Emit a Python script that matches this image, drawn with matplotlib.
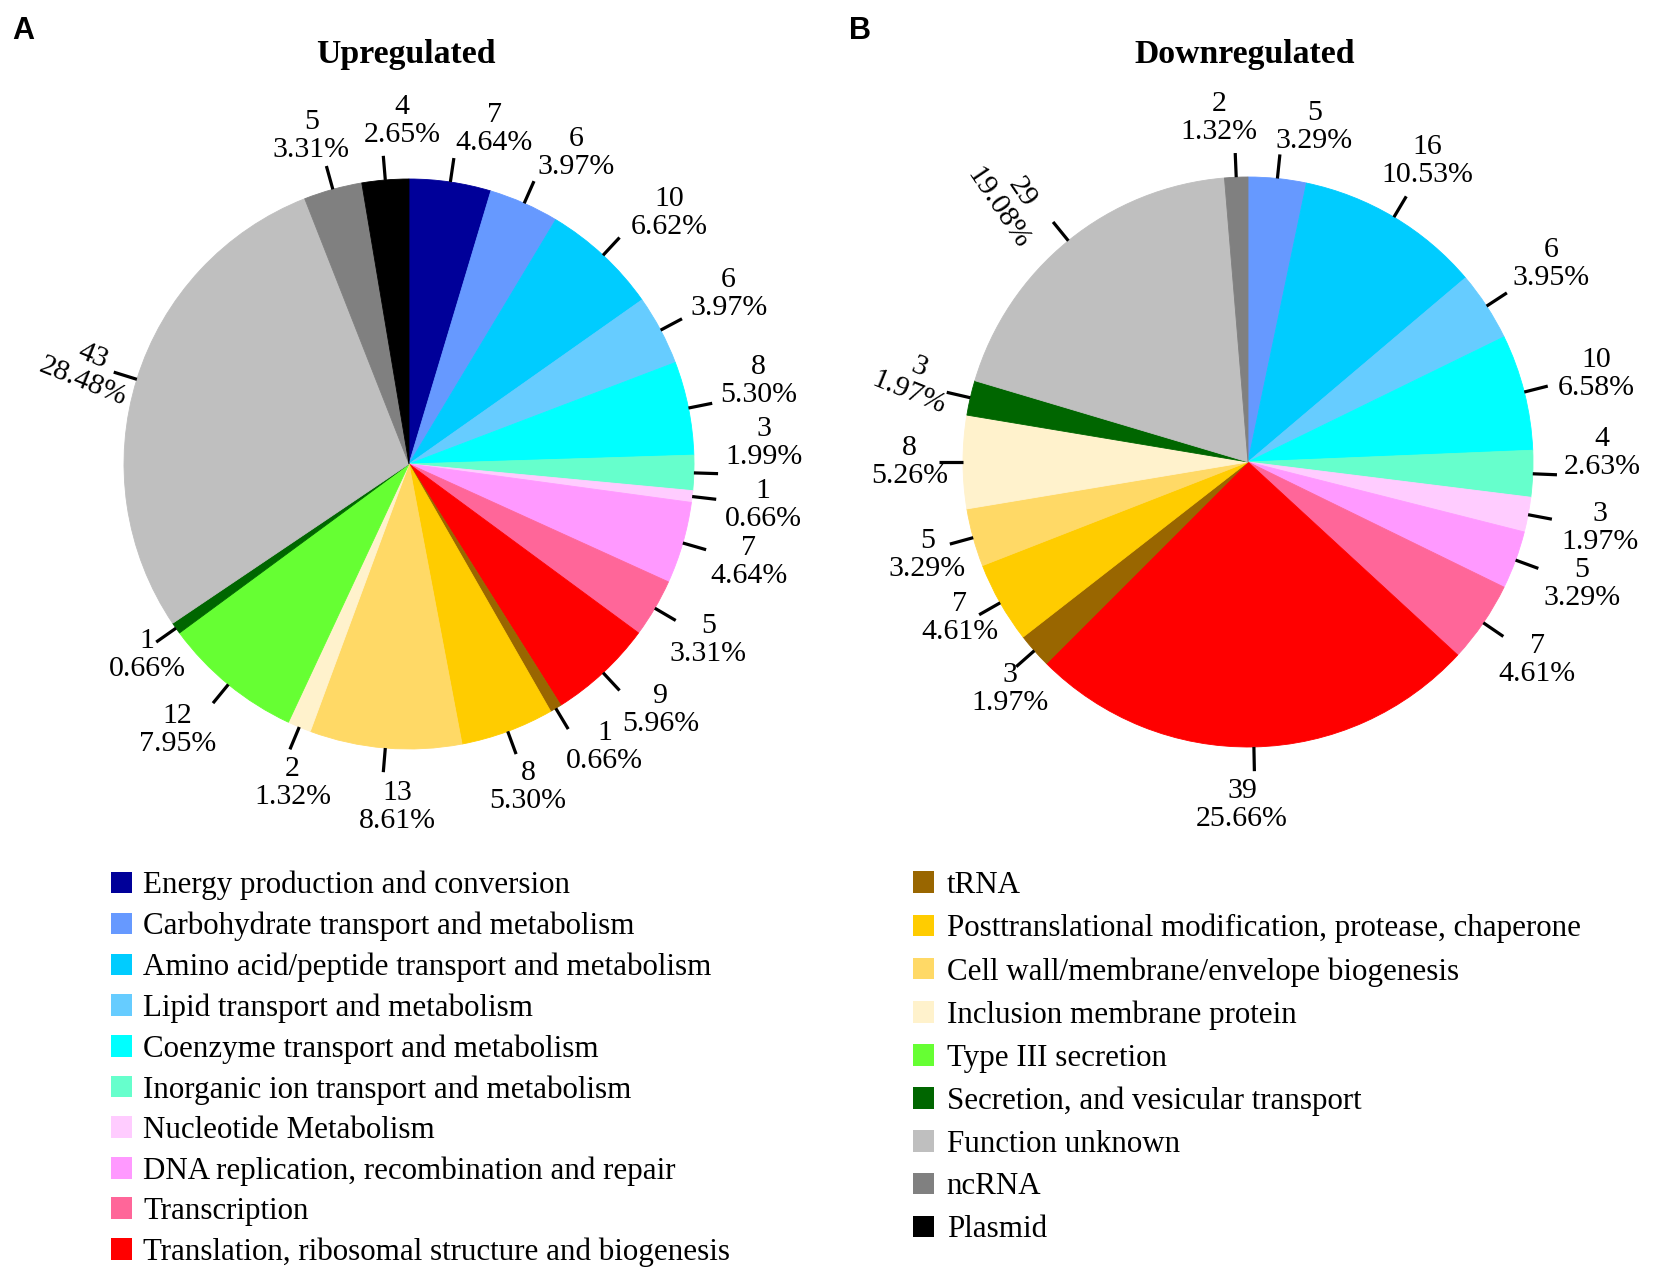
import numpy as np
import matplotlib
matplotlib.use("Agg")
import matplotlib.pyplot as plt
from matplotlib.patches import Patch

W, H = 1654, 1271

# COG categories, shared by both pies (clockwise from 12 o'clock)
categories = [
    "Energy production and conversion",
    "Carbohydrate transport and metabolism",
    "Amino acid/peptide transport and metabolism",
    "Lipid transport and metabolism",
    "Coenzyme transport and metabolism",
    "Inorganic ion transport and metabolism",
    "Nucleotide Metabolism",
    "DNA replication, recombination and repair",
    "Transcription",
    "Translation, ribosomal structure and biogenesis",
    "tRNA",
    "Posttranslational modification, protease, chaperone",
    "Cell wall/membrane/envelope biogenesis",
    "Inclusion membrane protein",
    "Type III secretion",
    "Secretion, and vesicular transport",
    "Function unknown",
    "ncRNA",
    "Plasmid",
]
colors = [
    "#000099", "#6699FF", "#00CCFF", "#66CCFF", "#00FFFF", "#66FFCC",
    "#FFCCFF", "#FF99FF", "#FF6699", "#FF0000", "#996600", "#FFCC00",
    "#FFD966", "#FFF2CC", "#66FF33", "#006600", "#BFBFBF", "#808080",
    "#000000",
]
up_counts = [7, 6, 10, 6, 8, 3, 1, 7, 5, 9, 1, 8, 13, 2, 12, 1, 43, 5, 4]
down_counts = [0, 5, 16, 6, 10, 4, 3, 5, 7, 39, 3, 7, 5, 8, 0, 3, 29, 2, 0]

# a few labels are tilted in the original
up_rot = {"Function unknown": -22}
down_rot = {"Function unknown": -56, "Secretion, and vesicular transport": -22}

# label nudges so they sit like the original: (extra angle, degrees clockwise; radial px)
up_nudge = {
    categories[0]: (5.9, -5), categories[1]: (4.4, -4), categories[2]: (3.1, 0),
    categories[4]: (-2.0, 0), categories[5]: (-5.2, 0), categories[7]: (0, -6),
    categories[8]: (0, -15), categories[9]: (-2.7, -10),
    categories[10]: (-3.6, -15), categories[11]: (0, -10), categories[12]: (-2.8, 0),
    categories[13]: (-2.6, -14), categories[14]: (1.7, -8), categories[15]: (-1.0, -38),
    "Function unknown": (-0.8, -43), "ncRNA": (-1.1, -10), "Plasmid": (3.6, 0),
}
down_nudge = {
    "ncRNA": (-2.4, 0), categories[1]: (5.3, -8), categories[2]: (0, -12),
    categories[5]: (-3.9, 0), categories[7]: (0, -5), categories[8]: (0, -12),
    categories[9]: (2.2, 0), categories[10]: (-2.2, -33), categories[11]: (1.2, -34),
    categories[12]: (-0.8, -26), categories[13]: (0, -15),
    "Function unknown": (-3.2, -33), "Secretion, and vesicular transport": (0.7, -25),
}

SERIF = ["Liberation Serif", "DejaVu Serif"]
SANS = ["Liberation Sans", "DejaVu Sans"]

fig = plt.figure(figsize=(W / 100, H / 100), dpi=100)
ax = fig.add_axes([0, 0, 1, 1])
renderer = fig.canvas.get_renderer()


def draw_panel(counts, center, radius, rot, nudge):
    # drop the empty categories, keep the colours matched
    keep = [i for i, v in enumerate(counts) if v > 0]
    vals = [counts[i] for i in keep]
    cols = [colors[i] for i in keep]
    names = [categories[i] for i in keep]
    total = sum(vals)

    wedges, _ = ax.pie(vals, colors=cols, startangle=90, counterclock=False,
                       center=center, radius=radius,
                       wedgeprops=dict(linewidth=0.6))
    for w, c in zip(wedges, cols):
        w.set_edgecolor(c)

    for w, v, name in zip(wedges, vals, names):
        mid = (w.theta1 + w.theta2) / 2
        ang = np.deg2rad(mid)
        ux, uy = np.cos(ang), np.sin(ang)
        x0, y0 = center[0] + radius * ux, center[1] + radius * uy
        x1, y1 = center[0] + radius * 1.085 * ux, center[1] + radius * 1.085 * uy
        ax.plot([x0, x1], [y0, y1], color="black", lw=2.3, solid_capstyle="butt")

        t = ax.text(x1, y1, f"{v}\n{100 * v / total:.2f}%", ha="center", va="center",
                    multialignment="center", rotation=rot.get(name, 0),
                    rotation_mode="anchor", fontsize=21.5, family=SERIF,
                    linespacing=1.1)
        bb = t.get_window_extent(renderer)
        dang, dr = nudge.get(name, (0, 0))
        la = np.deg2rad(mid - dang)
        lx, ly = np.cos(la), np.sin(la)
        d = radius * 1.085 + 6 + dr + 0.5 * bb.width * abs(lx) + 0.5 * bb.height * abs(ly)
        t.set_position((center[0] + d * lx, center[1] + d * ly))


draw_panel(up_counts, (409, H - 464), 285, up_rot, up_nudge)
draw_panel(down_counts, (1248, H - 462), 285, down_rot, down_nudge)

ax.set_xlim(0, W)
ax.set_ylim(0, H)
ax.set_aspect("auto")
ax.axis("off")

# titles and panel letters
ax.text(406, H - 55, "Upregulated", ha="center", va="center", fontsize=24.3,
        fontweight="bold", family=SERIF)
ax.text(1245, H - 55, "Downregulated", ha="center", va="center", fontsize=24.3,
        fontweight="bold", family=SERIF)
ax.text(23, H - 31, "A", ha="center", va="center", fontsize=22,
        fontweight="bold", family=SANS)
ax.text(860, H - 31, "B", ha="center", va="center", fontsize=22,
        fontweight="bold", family=SANS)

# legends, two columns
leg_font = dict(family=SERIF, size=22.3)
h_left = [Patch(facecolor=colors[i], edgecolor="none") for i in range(10)]
h_right = [Patch(facecolor=colors[i], edgecolor="none") for i in range(10, 19)]

leg1 = ax.legend(h_left, categories[:10], loc="upper left",
                 bbox_to_anchor=(111 / W, 1 - 871 / H), frameon=False,
                 prop=leg_font, handlelength=0.69, handleheight=0.69,
                 handletextpad=0.35, labelspacing=0.365, borderpad=0,
                 borderaxespad=0)
ax.add_artist(leg1)
ax.legend(h_right, categories[10:], loc="upper left",
          bbox_to_anchor=(913 / W, 1 - 871 / H), frameon=False,
          prop=leg_font, handlelength=0.69, handleheight=0.69,
          handletextpad=0.4, labelspacing=0.445, borderpad=0,
          borderaxespad=0)

fig.savefig("out.png", dpi=100)
